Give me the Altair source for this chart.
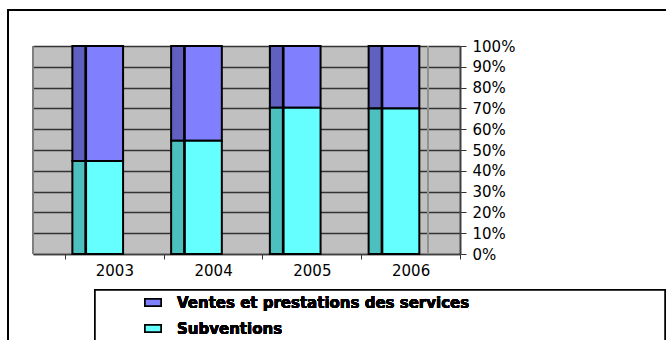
import altair as alt
import pandas as pd

# Répartition des ressources par année (en % du total)
annees = ["2003", "2004", "2005", "2006"]
series = ["Ventes et prestations des services", "Subventions"]
ventes = [55.3, 45.5, 29.7, 30.0]
subventions = [44.7, 54.5, 70.3, 70.0]
graduations = [i / 10 for i in range(11)]

couleurs_face = ["#8080FF", "#66FFFF"]
couleurs_cote = ["#6060C0", "#4CBFBF"]

rows = []
for i, a in enumerate(annees):
    rows.append({"annee": a, "serie": series[0], "part": ventes[i], "rang": 1})
    rows.append({"annee": a, "serie": series[1], "part": subventions[i], "rang": 0})
df = pd.DataFrame(rows)

W, H = 427, 208
FONT = "DejaVu Sans"

enc_x = alt.X(
    "annee:N",
    scale=alt.Scale(paddingInner=0, paddingOuter=0.162, align=1),
    axis=alt.Axis(
        title=None, orient="bottom", labelAngle=0, tickBand="extent",
        tickSize=5, tickColor="#333333", domainColor="#404040", domainWidth=1.5,
        labelFont=FONT, labelFontSize=15, labelColor="black", labelPadding=4,
    ),
)
enc_y = alt.Y(
    "part:Q",
    stack="normalize",
    scale=alt.Scale(domain=[0, 1]),
    axis=alt.Axis(
        title=None, orient="right", values=graduations, format=".0%",
        grid=True, gridColor="#333333", gridWidth=1.3,
        domainColor="#404040", domainWidth=2, tickColor="#333333", tickSize=6,
        labelFont=FONT, labelFontSize=15, labelColor="black", labelPadding=6,
    ),
)

base = alt.Chart(df)

# left face of each column (darker shade, drawn first)
cote = base.mark_bar(size=13, xOffset=-35.5, stroke="black", strokeWidth=2).encode(
    x=enc_x,
    y=enc_y,
    color=alt.Color("serie:N", scale=alt.Scale(domain=series, range=couleurs_cote), legend=None),
    order=alt.Order("rang:Q"),
)

# front face of each column
face = base.mark_bar(size=37, xOffset=-9.8, stroke="black", strokeWidth=2).encode(
    x=enc_x,
    y=enc_y,
    color=alt.Color("serie:N", scale=alt.Scale(domain=series, range=couleurs_face), legend=None),
    order=alt.Order("rang:Q"),
)

# wall edges
bord_gauche = alt.Chart(df).mark_rule(color="#808080", strokeWidth=2).encode(
    x=alt.value(0), y=alt.value(0), y2=alt.value(H)
)
bord_droit = alt.Chart(df).mark_rule(color="#909090", strokeWidth=2).encode(
    x=alt.value(395), y=alt.value(0), y2=alt.value(H)
)

# legend frame and entries
cadre_legende = alt.Chart(df).mark_rect(fill="white", stroke="black", strokeWidth=1.5).encode(
    x=alt.value(62), x2=alt.value(632), y=alt.value(244), y2=alt.value(300)
)
entrees = []
for i, nom in enumerate(series):
    yc = 256.5 + 26 * i
    entrees.append(
        alt.Chart(df).mark_rect(fill=couleurs_face[i], stroke="black", strokeWidth=1.5).encode(
            x=alt.value(112), x2=alt.value(128), y=alt.value(yc - 3.5), y2=alt.value(yc + 3.5)
        )
    )
    entrees.append(
        alt.Chart(df).mark_text(
            align="left", baseline="middle", font=FONT, fontSize=15, fontWeight="bold", color="black"
        ).encode(x=alt.value(144), y=alt.value(yc), text=alt.value(nom))
    )

cadre = alt.Chart(df).mark_rect(fillOpacity=0, stroke="black", strokeWidth=1.5).encode(
    x=alt.value(-25), x2=alt.value(640), y=alt.value(-36), y2=alt.value(300)
)

chart = (
    alt.layer(cote, face, bord_gauche, bord_droit, cadre_legende, *entrees, cadre)
    .resolve_scale(color="independent")
    .properties(
        width=W,
        height=H,
        autosize=alt.AutoSizeParams(type="none"),
        padding={"left": 33, "top": 46, "right": 206, "bottom": 86},
        background="white",
    )
    .configure_view(fill="#C0C0C0", stroke=None)
)

chart.save("out.html", embed_options={"renderer": "svg", "actions": False})
